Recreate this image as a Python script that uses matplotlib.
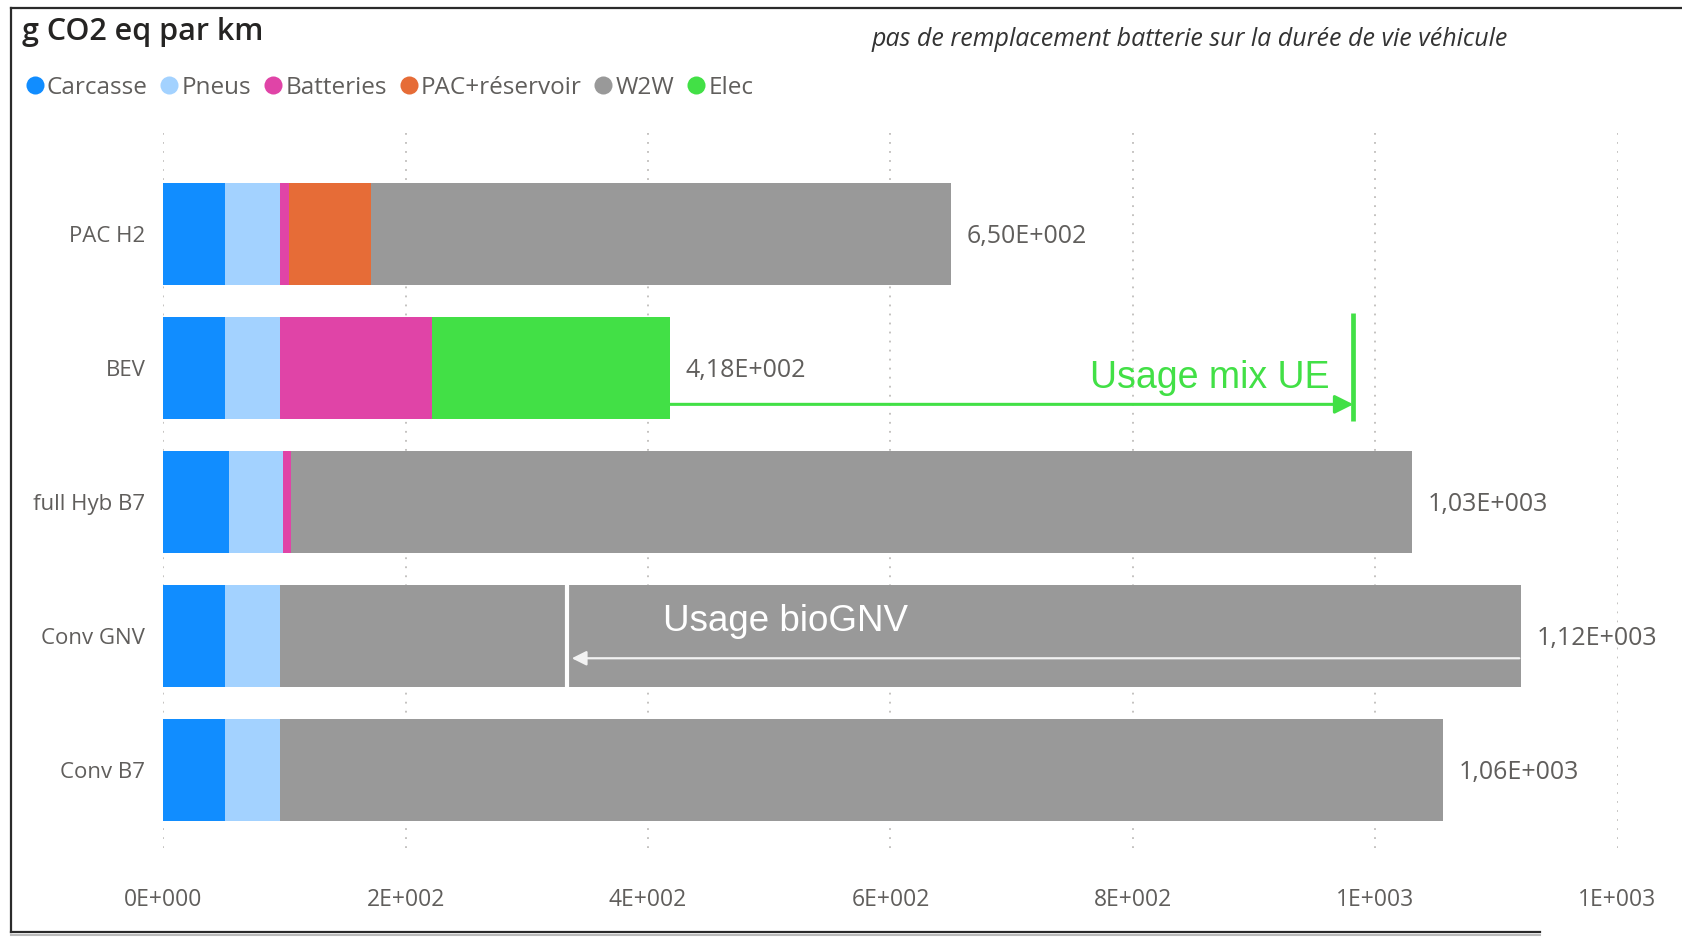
import numpy as np
import matplotlib.pyplot as plt
from matplotlib.lines import Line2D

# g CO2 eq par km
categories = ['PAC H2', 'BEV', 'full Hyb B7', 'Conv GNV', 'Conv B7']
carcasse = [51, 51, 54, 51, 51]
pneus = [45, 45, 45, 45, 45]
batteries = [8, 126, 6, 0, 0]
pac_reservoir = [67, 0, 0, 0, 0]
w2w = [479, 0, 925, 1024, 960]
elec = [0, 196, 0, 0, 0]
xticks = [0, 200, 400, 600, 800, 1000, 1200]

usage_mix_ue = 982      # fin de la fleche verte (BEV)
usage_biognv = 333      # fin de la fleche blanche (Conv GNV)

series = [
    ('Carcasse', carcasse, '#118DFF'),
    ('Pneus', pneus, '#A3D2FF'),
    ('Batteries', batteries, '#E044A7'),
    ('PAC+réservoir', pac_reservoir, '#E66C37'),
    ('W2W', w2w, '#999999'),
    ('Elec', elec, '#42E046'),
]


def sci_fr(v, nd):
    if v == 0:
        return '0E+000'
    e = int(np.floor(np.log10(abs(v))))
    m = v / 10 ** e
    if round(m, nd) >= 10:
        e += 1
        m = v / 10 ** e
    return f"{m:.{nd}f}".replace('.', ',') + f"E+{e:03d}"


SEGOE = ['Open Sans', 'DejaVu Sans']
ARIAL = ['Liberation Sans', 'DejaVu Sans']
GREY_TXT = '#605E5C'
GREEN = '#42E046'

fig = plt.figure(figsize=(16.83, 9.48), dpi=100)
ax = fig.add_axes([0.0971, 0.1055, 0.9611 - 0.0971, 0.8618 - 0.1055])

y = np.arange(len(categories))
left = np.zeros(len(categories))
for name, vals, col in series:
    vals = np.array(vals, dtype=float)
    ax.barh(y, vals, left=left, height=0.76, color=col, label=name, zorder=2)
    left += vals
totals = left

for yi, t in zip(y, totals):
    ax.text(t + 13, yi, sci_fr(t, 2), va='center_baseline', ha='left', fontsize=18,
            color=GREY_TXT, family=SEGOE)

ax.set_xlim(0, 1200)
ax.set_ylim(4.584, -0.767)
ax.set_yticks(y)
ax.set_yticklabels(categories, family=SEGOE, fontsize=16, color=GREY_TXT)
ax.set_xticks(xticks)
ax.set_xticklabels([sci_fr(v, 0) for v in xticks], family=SEGOE, fontsize=16.5, color=GREY_TXT)
ax.tick_params(axis='both', length=0)
ax.tick_params(axis='x', pad=29)
ax.tick_params(axis='y', pad=13)
for s in ax.spines.values():
    s.set_visible(False)
ax.xaxis.grid(True, linestyle=(0, (1, 4)), color='#BFBDBB', linewidth=1.3)
ax.set_axisbelow(True)

# annotation verte : usage mix UE
bev = categories.index('BEV')
ax.annotate('', xy=(usage_mix_ue, bev + 0.273), xytext=(totals[bev], bev + 0.273),
            arrowprops=dict(arrowstyle='-|>', color=GREEN, lw=2.2, mutation_scale=28,
                            shrinkA=0, shrinkB=0), zorder=4)
ax.plot([usage_mix_ue, usage_mix_ue], [bev - 0.41, bev + 0.395], color=GREEN, lw=3.4,
        solid_capstyle='butt', zorder=4)
ax.text(usage_mix_ue - 20, bev + 0.08, 'Usage mix UE', ha='right', va='center',
        color=GREEN, fontsize=27, family=ARIAL)

# annotation blanche : usage bioGNV
gnv = categories.index('Conv GNV')
ax.plot([usage_biognv, usage_biognv], [gnv - 0.38, gnv + 0.38], color='white', lw=3,
        solid_capstyle='butt', zorder=4)
ax.annotate('', xy=(usage_biognv + 4, gnv + 0.168), xytext=(totals[gnv] - 1, gnv + 0.168),
            arrowprops=dict(arrowstyle='-|>', color='#F2F2F2', lw=1.6, mutation_scale=22,
                            shrinkA=0, shrinkB=0), zorder=4)
ax.text(412, gnv - 0.11, 'Usage bioGNV', ha='left', va='center', color='white',
        fontsize=26.5, family=ARIAL, zorder=5)

# titre, sous-titre, legende
fig.text(22 / 1683, 1 - 32 / 948, 'g CO2 eq par km', fontsize=22, va='center',
         color='#252423', family=SEGOE, weight='semibold')
fig.text(1508 / 1683, 1 - 40 / 948, 'pas de remplacement batterie sur la durée de vie véhicule',
         ha='right', va='center', fontsize=18, style='italic', color='#333333', family=SEGOE)

handles = [Line2D([], [], marker='o', linestyle='none', markersize=13, color=c,
                  markeredgewidth=0) for _, _, c in series]
fig.legend(handles, [n for n, _, _ in series], loc='center left',
           bbox_to_anchor=(26 / 1683, 1 - 88 / 948), ncol=6, frameon=False,
           handlelength=0.7, handletextpad=0.15, columnspacing=0.55, borderpad=0,
           borderaxespad=0, prop={'family': SEGOE, 'size': 17.5}, labelcolor=GREY_TXT)

# cadre de la capture
W, H = 1683, 948
frame = dict(transform=fig.transFigure, color='#2B2B2B', lw=1.6)
fig.add_artist(Line2D([11 / W, 11 / W], [1 - 8 / H, 1 - 932 / H], **frame))
fig.add_artist(Line2D([11 / W, 1.0], [1 - 8 / H, 1 - 8 / H], **frame))
fig.add_artist(Line2D([11 / W, 1540 / W], [1 - 932 / H, 1 - 932 / H], **frame))
fig.add_artist(Line2D([11 / W, 1540 / W], [1 - 935 / H, 1 - 935 / H],
                      transform=fig.transFigure, color='#BBBBBB', lw=1.5))

fig.savefig('out.png', dpi=100)
